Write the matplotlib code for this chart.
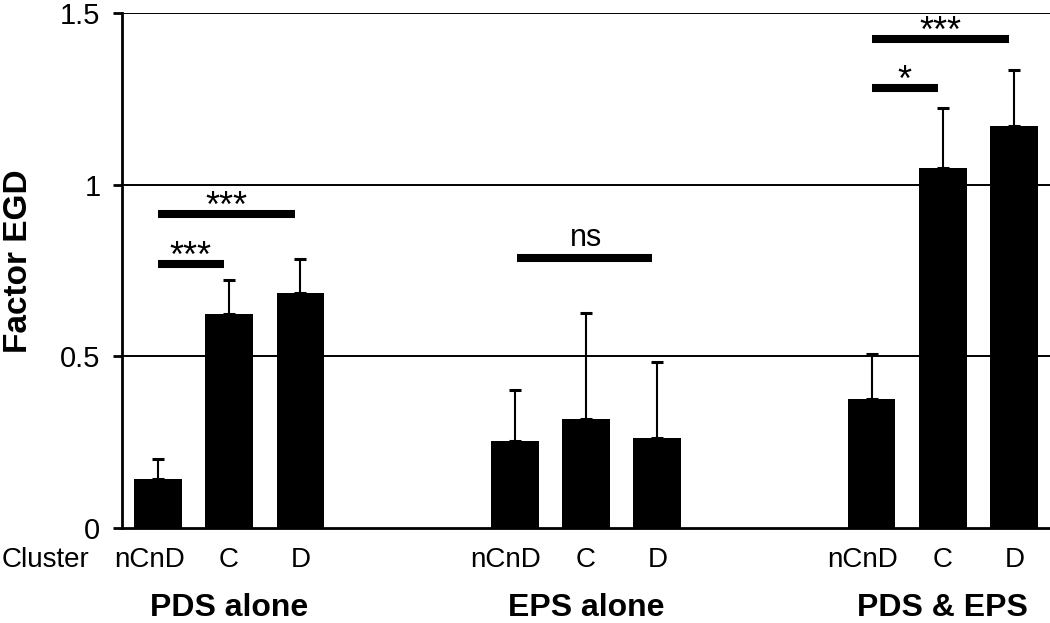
import matplotlib
matplotlib.use("Agg")
import matplotlib.pyplot as plt
import numpy as np

plt.rcParams['font.family'] = ['Liberation Sans', 'DejaVu Sans']

groups = ["PDS alone", "EPS alone", "PDS & EPS"]
clusters = ["nCnD", "C", "D"]
means = [0.142, 0.623, 0.684,
         0.254, 0.318, 0.263,
         0.375, 1.050, 1.172]
errs_up = [0.060, 0.099, 0.099,
           0.147, 0.309, 0.220,
           0.131, 0.172, 0.162]
yticks = [0, 0.5, 1, 1.5]
ytick_labels = ["0", "0.5", "1", "1.5"]
# significance brackets: group, from cluster 0 to cluster index, bar level, label
sig_group = [0, 0, 1, 2, 2]
sig_to = [1, 2, 2, 1, 2]
sig_y = [0.769, 0.914, 0.786, 1.281, 1.424]
sig_lbl = ["***", "***", "ns", "*", "***"]

W, H = 1050, 623
fig = plt.figure(figsize=(W / 100, H / 100), dpi=100)
ax = fig.add_axes([122 / W, 1 - 528 / H, 1 - 122 / W, (528 - 13) / H])

group_step = 5
pos = np.array([g * group_step + c for g in range(len(groups)) for c in range(len(clusters))], float)

ax.set_axisbelow(True)
for yv in yticks[1:]:
    ax.axhline(yv, color="black", lw=1.4, zorder=0)

ax.bar(pos, means, width=0.67, color="black", zorder=2)
ax.errorbar(pos, means, yerr=[np.zeros(len(means)), errs_up], fmt="none",
            ecolor="black", elinewidth=1.5, capsize=4.3, capthick=2.2, zorder=3)

ax.set_xlim(-0.5, 12.5)
ax.set_ylim(0, 1.5)
ax.set_yticks(yticks)
ax.set_yticklabels(ytick_labels, fontsize=21)
ax.tick_params(axis="y", length=6.5, width=2.0, pad=9)
ax.set_xticks([])
for s in ["top", "right"]:
    ax.spines[s].set_visible(False)
ax.spines["left"].set_linewidth(2.0)
ax.spines["bottom"].set_linewidth(2.0)

# significance bars
for g, t, yv, lbl in zip(sig_group, sig_to, sig_y, sig_lbl):
    x0 = g * group_step + (0.03 if lbl == "ns" else 0.0)
    x1 = g * group_step + t - 0.07
    ax.plot([x0, x1], [yv, yv], color="black", lw=5.8, solid_capstyle="butt", zorder=4)
    xc = (x0 + x1) / 2
    if lbl == "ns":
        ax.text(xc + 0.02, yv + 0.035, lbl, ha="center", va="baseline", fontsize=22, zorder=5)
    else:
        ax.text(xc, yv - 0.008, lbl, ha="center", va="baseline", fontsize=26, zorder=5)

# category labels
trans = ax.get_xaxis_transform()
for i, p in enumerate(pos):
    lbl = clusters[i % 3]
    dx = -0.12 if lbl == "nCnD" else 0.0
    ax.text(p + dx, -(567 - 528) / 515, lbl, ha="center", va="baseline",
            fontsize=20, transform=trans, clip_on=False)
for g, name in enumerate(groups):
    ax.text(g * group_step + 1, -(616 - 528) / 515, name, ha="center", va="baseline",
            fontsize=23, fontweight="bold", transform=trans, clip_on=False)

fig.text(2 / W, 1 - 567 / H, "Cluster", ha="left", va="baseline", fontsize=20)
fig.text(19 / W, 1 - 261 / H, "Factor EGD", rotation=90, ha="center", va="center",
         fontsize=24, fontweight="bold")

fig.savefig("out.png", dpi=100)
